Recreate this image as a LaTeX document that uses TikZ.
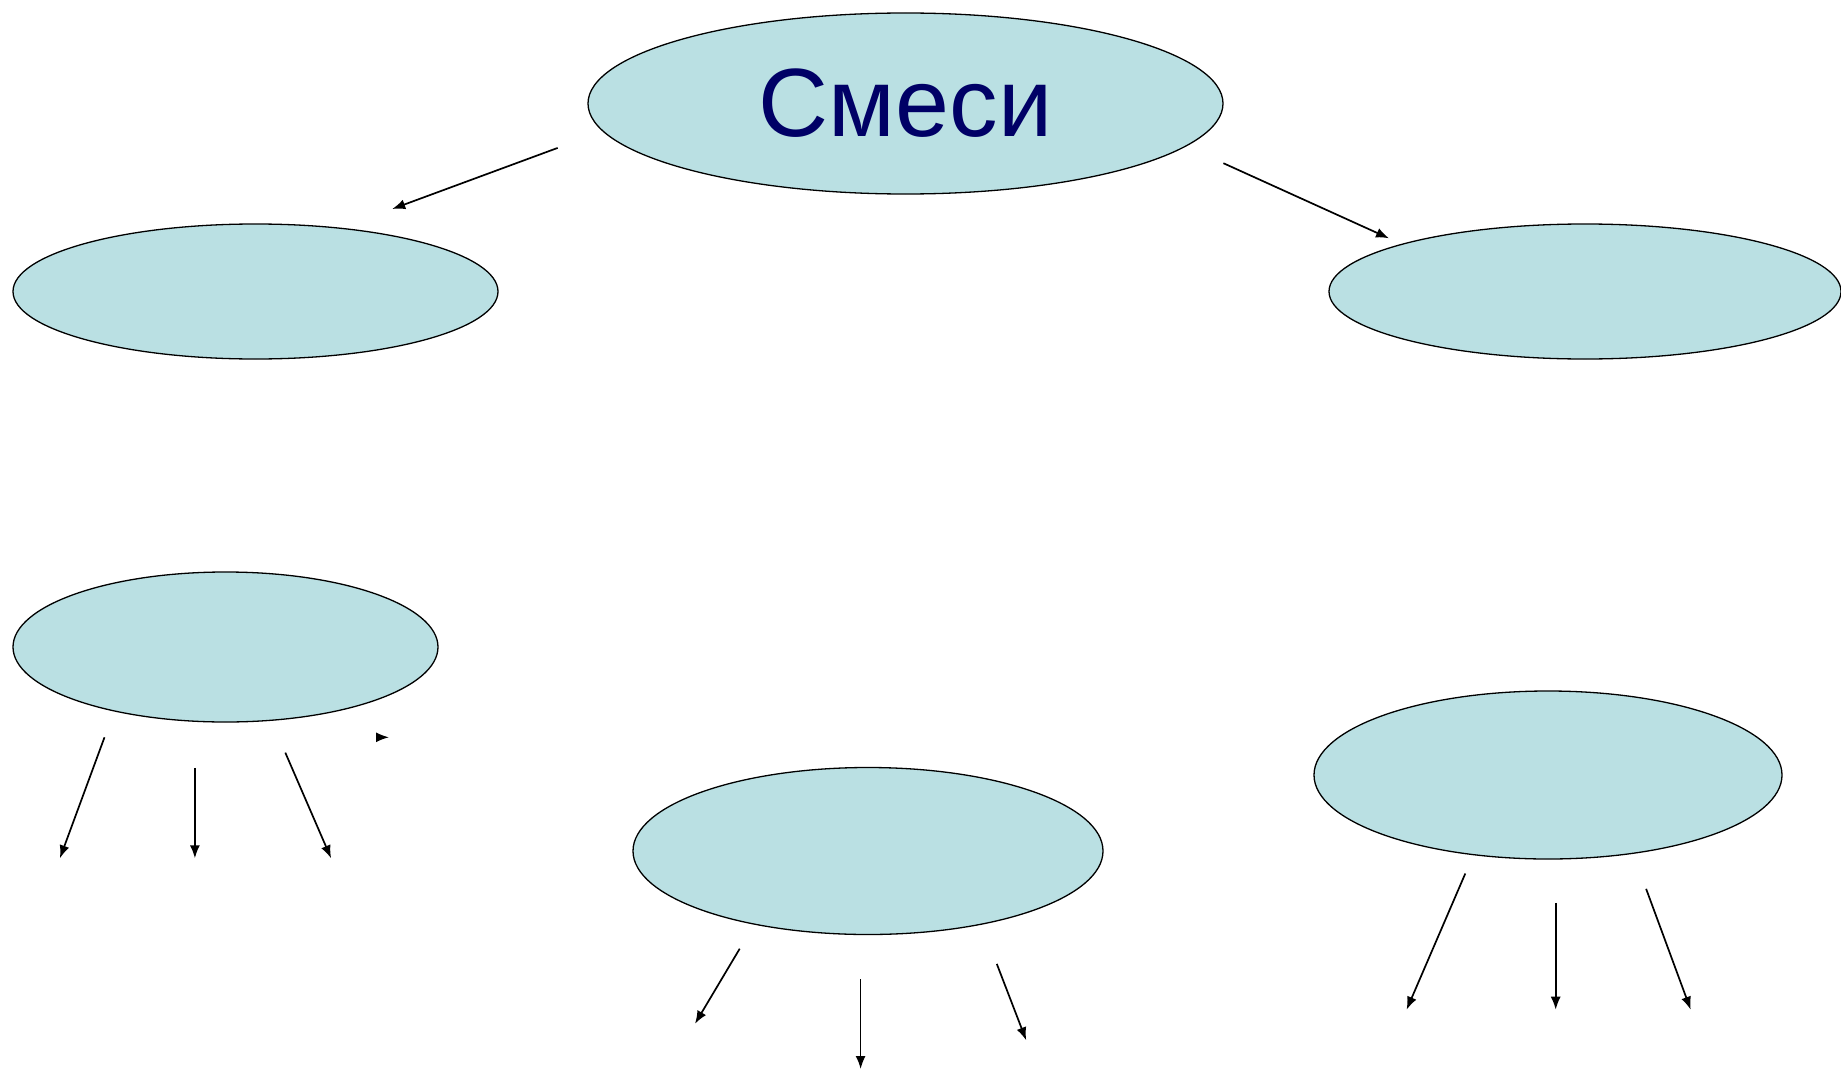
\documentclass[tikz,border=0pt]{standalone}
\usepackage{fontspec}
\setmainfont{Liberation Sans}
\usetikzlibrary{shapes.geometric,arrows.meta}
\definecolor{ellfill}{RGB}{186,224,227}
\definecolor{navy}{RGB}{0,0,102}
\tikzset{
  blob/.style={ellipse, draw=black, line width=1.3pt, fill=ellfill, inner sep=0pt},
  arr/.style={line width=1.7pt, -{Latex[length=13pt,width=10pt]}}
}
\begin{document}
\begin{tikzpicture}[x=1pt,y=-1pt]
\useasboundingbox (0,0) rectangle (1841,1070);
\fill[white] (0,0) rectangle (1841,1070);
% ellipses
\node[blob, minimum width=635pt, minimum height=181pt, text=navy, font=\fontsize{97}{105}\selectfont] (top) at (905.5,103.5) {Смеси};
\node[blob, minimum width=485pt, minimum height=135pt] (tl) at (255.5,291.5) {};
\node[blob, minimum width=512pt, minimum height=135pt] (tr) at (1585,291.5) {};
\node[blob, minimum width=425pt, minimum height=150pt] (ml) at (225.5,647) {};
\node[blob, minimum width=470pt, minimum height=167pt] (mb) at (868,851) {};
\node[blob, minimum width=468pt, minimum height=168pt] (rb) at (1548,775) {};
% connector ends
\coordinate (a1s) at (557.7,147.9); \coordinate (a1e) at (392.2,209);
\coordinate (a2s) at (1223.4,163.2); \coordinate (a2e) at (1389,238.3);
\coordinate (s1s) at (376,737.3); \coordinate (s1e) at (389,737.3);
\coordinate (l1s) at (104.5,737.3); \coordinate (l1e) at (59.9,858.3);
\coordinate (l2s) at (194.9,767.9); \coordinate (l2e) at (194.9,858.3);
\coordinate (l3s) at (285.3,752.6); \coordinate (l3e) at (331.1,858.3);
\coordinate (m1s) at (739.7,948.7); \coordinate (m1e) at (695,1023.8);
\coordinate (m2s) at (860.6,979.2); \coordinate (m2e) at (860.6,1069);
\coordinate (m3s) at (996.8,963.9); \coordinate (m3e) at (1026.2,1040.3);
\coordinate (r1s) at (1465.3,873.5); \coordinate (r1e) at (1406.6,1009.7);
\coordinate (r2s) at (1555.7,902.9); \coordinate (r2e) at (1555.7,1009.7);
\coordinate (r3s) at (1646.1,888.8); \coordinate (r3e) at (1690.7,1009.7);
% connectors
\draw[arr] (a1s) -- (a1e);
\draw[arr] (a2s) -- (a2e);
\draw[arr] (s1s) -- (s1e);
\draw[arr] (l1s) -- (l1e);
\draw[arr] (l2s) -- (l2e);
\draw[arr] (l3s) -- (l3e);
\draw[arr] (m1s) -- (m1e);
\draw[arr] (m2s) -- (m2e);
\draw[arr] (m3s) -- (m3e);
\draw[arr] (r1s) -- (r1e);
\draw[arr] (r2s) -- (r2e);
\draw[arr] (r3s) -- (r3e);
\end{tikzpicture}
\end{document}
